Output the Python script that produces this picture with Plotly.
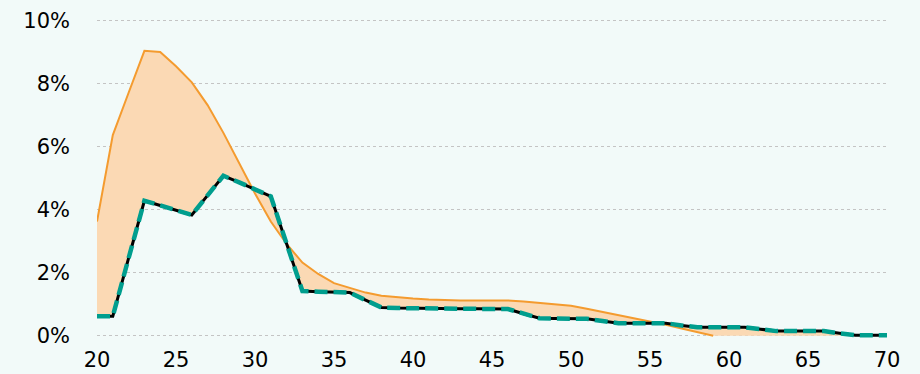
import plotly.graph_objects as go

ages = list(range(20, 71))
orange = [3.62, 6.36, 7.70, 9.03, 8.99, 8.54, 8.03, 7.31, 6.43, 5.48,
          4.51, 3.62, 2.91, 2.32, 1.96, 1.67, 1.51, 1.37, 1.27, 1.22,
          1.18, 1.15, 1.13, 1.12, 1.12, 1.12, 1.12, 1.09, 1.05, 1.00,
          0.95, 0.86, 0.76, 0.66, 0.55, 0.46, 0.35, 0.23, 0.11, 0.0,
          0.0, 0.0, 0.0, 0.0, 0.0, 0.0, 0.0, 0.0, 0.0, 0.0, 0.0]
orange_line_end = 59
dashed = [0.62, 0.62, 2.46, 4.28, 4.13, 3.98, 3.83, 4.45, 5.07, 4.86,
          4.65, 4.42, 2.92, 1.42, 1.40, 1.39, 1.37, 1.13, 0.90, 0.88,
          0.87, 0.87, 0.86, 0.86, 0.86, 0.85, 0.85, 0.70, 0.56, 0.55,
          0.55, 0.54, 0.47, 0.40, 0.40, 0.40, 0.40, 0.33, 0.27, 0.27,
          0.27, 0.27, 0.21, 0.15, 0.15, 0.15, 0.15, 0.08, 0.02, 0.02, 0.02]
y_ticks = [0, 2, 4, 6, 8, 10]
y_tick_text = ["0%", "2%", "4%", "6%", "8%", "10%"]
x_ticks = [20, 25, 30, 35, 40, 45, 50, 55, 60, 65, 70]

BG = "#f2faf9"
ORANGE = "#f49b2f"
FILL = "#fbd9b4"
TEAL = "#009e8e"

n_or = ages.index(orange_line_end) + 1

fig = go.Figure()
fig.add_trace(go.Scatter(x=ages, y=orange, mode="lines", line=dict(width=0),
                         hoverinfo="skip", showlegend=False))
fig.add_trace(go.Scatter(x=ages, y=dashed, mode="lines", line=dict(width=0),
                         fill="tonexty", fillcolor=FILL, hoverinfo="skip",
                         showlegend=False))
fig.add_trace(go.Scatter(x=ages[:n_or], y=orange[:n_or], mode="lines",
                         line=dict(color=ORANGE, width=2), showlegend=False))
fig.add_trace(go.Scatter(x=ages, y=dashed, mode="lines",
                         line=dict(color="#000000", width=3), showlegend=False))
fig.add_trace(go.Scatter(x=ages, y=dashed, mode="lines",
                         line=dict(color=TEAL, width=4.5, dash="13px,6px"),
                         showlegend=False))

font = dict(family="DejaVu Sans, Verdana, sans-serif", size=21, color="#000000")
fig.update_layout(
    width=920, height=374,
    margin=dict(l=97, r=33, t=17, b=35),
    paper_bgcolor=BG, plot_bgcolor=BG,
    font=font,
    xaxis=dict(range=[20, 70], tickvals=x_ticks, showgrid=False, zeroline=False,
               showline=False, ticks="", ticklabelstandoff=6, tickfont=font,
               automargin=False),
    yaxis=dict(range=[-0.1, 10.1], tickvals=y_ticks, ticktext=y_tick_text,
               showgrid=True, gridcolor="#c4c4c4", griddash="dot", gridwidth=1,
               zeroline=False, showline=False, ticks="", ticklabelstandoff=26,
               tickfont=font, automargin=False),
)
fig.write_html("out.html", config={"displayModeBar": False},
               post_script="document.body.style.margin='0';document.body.style.background='" + BG + "';")
